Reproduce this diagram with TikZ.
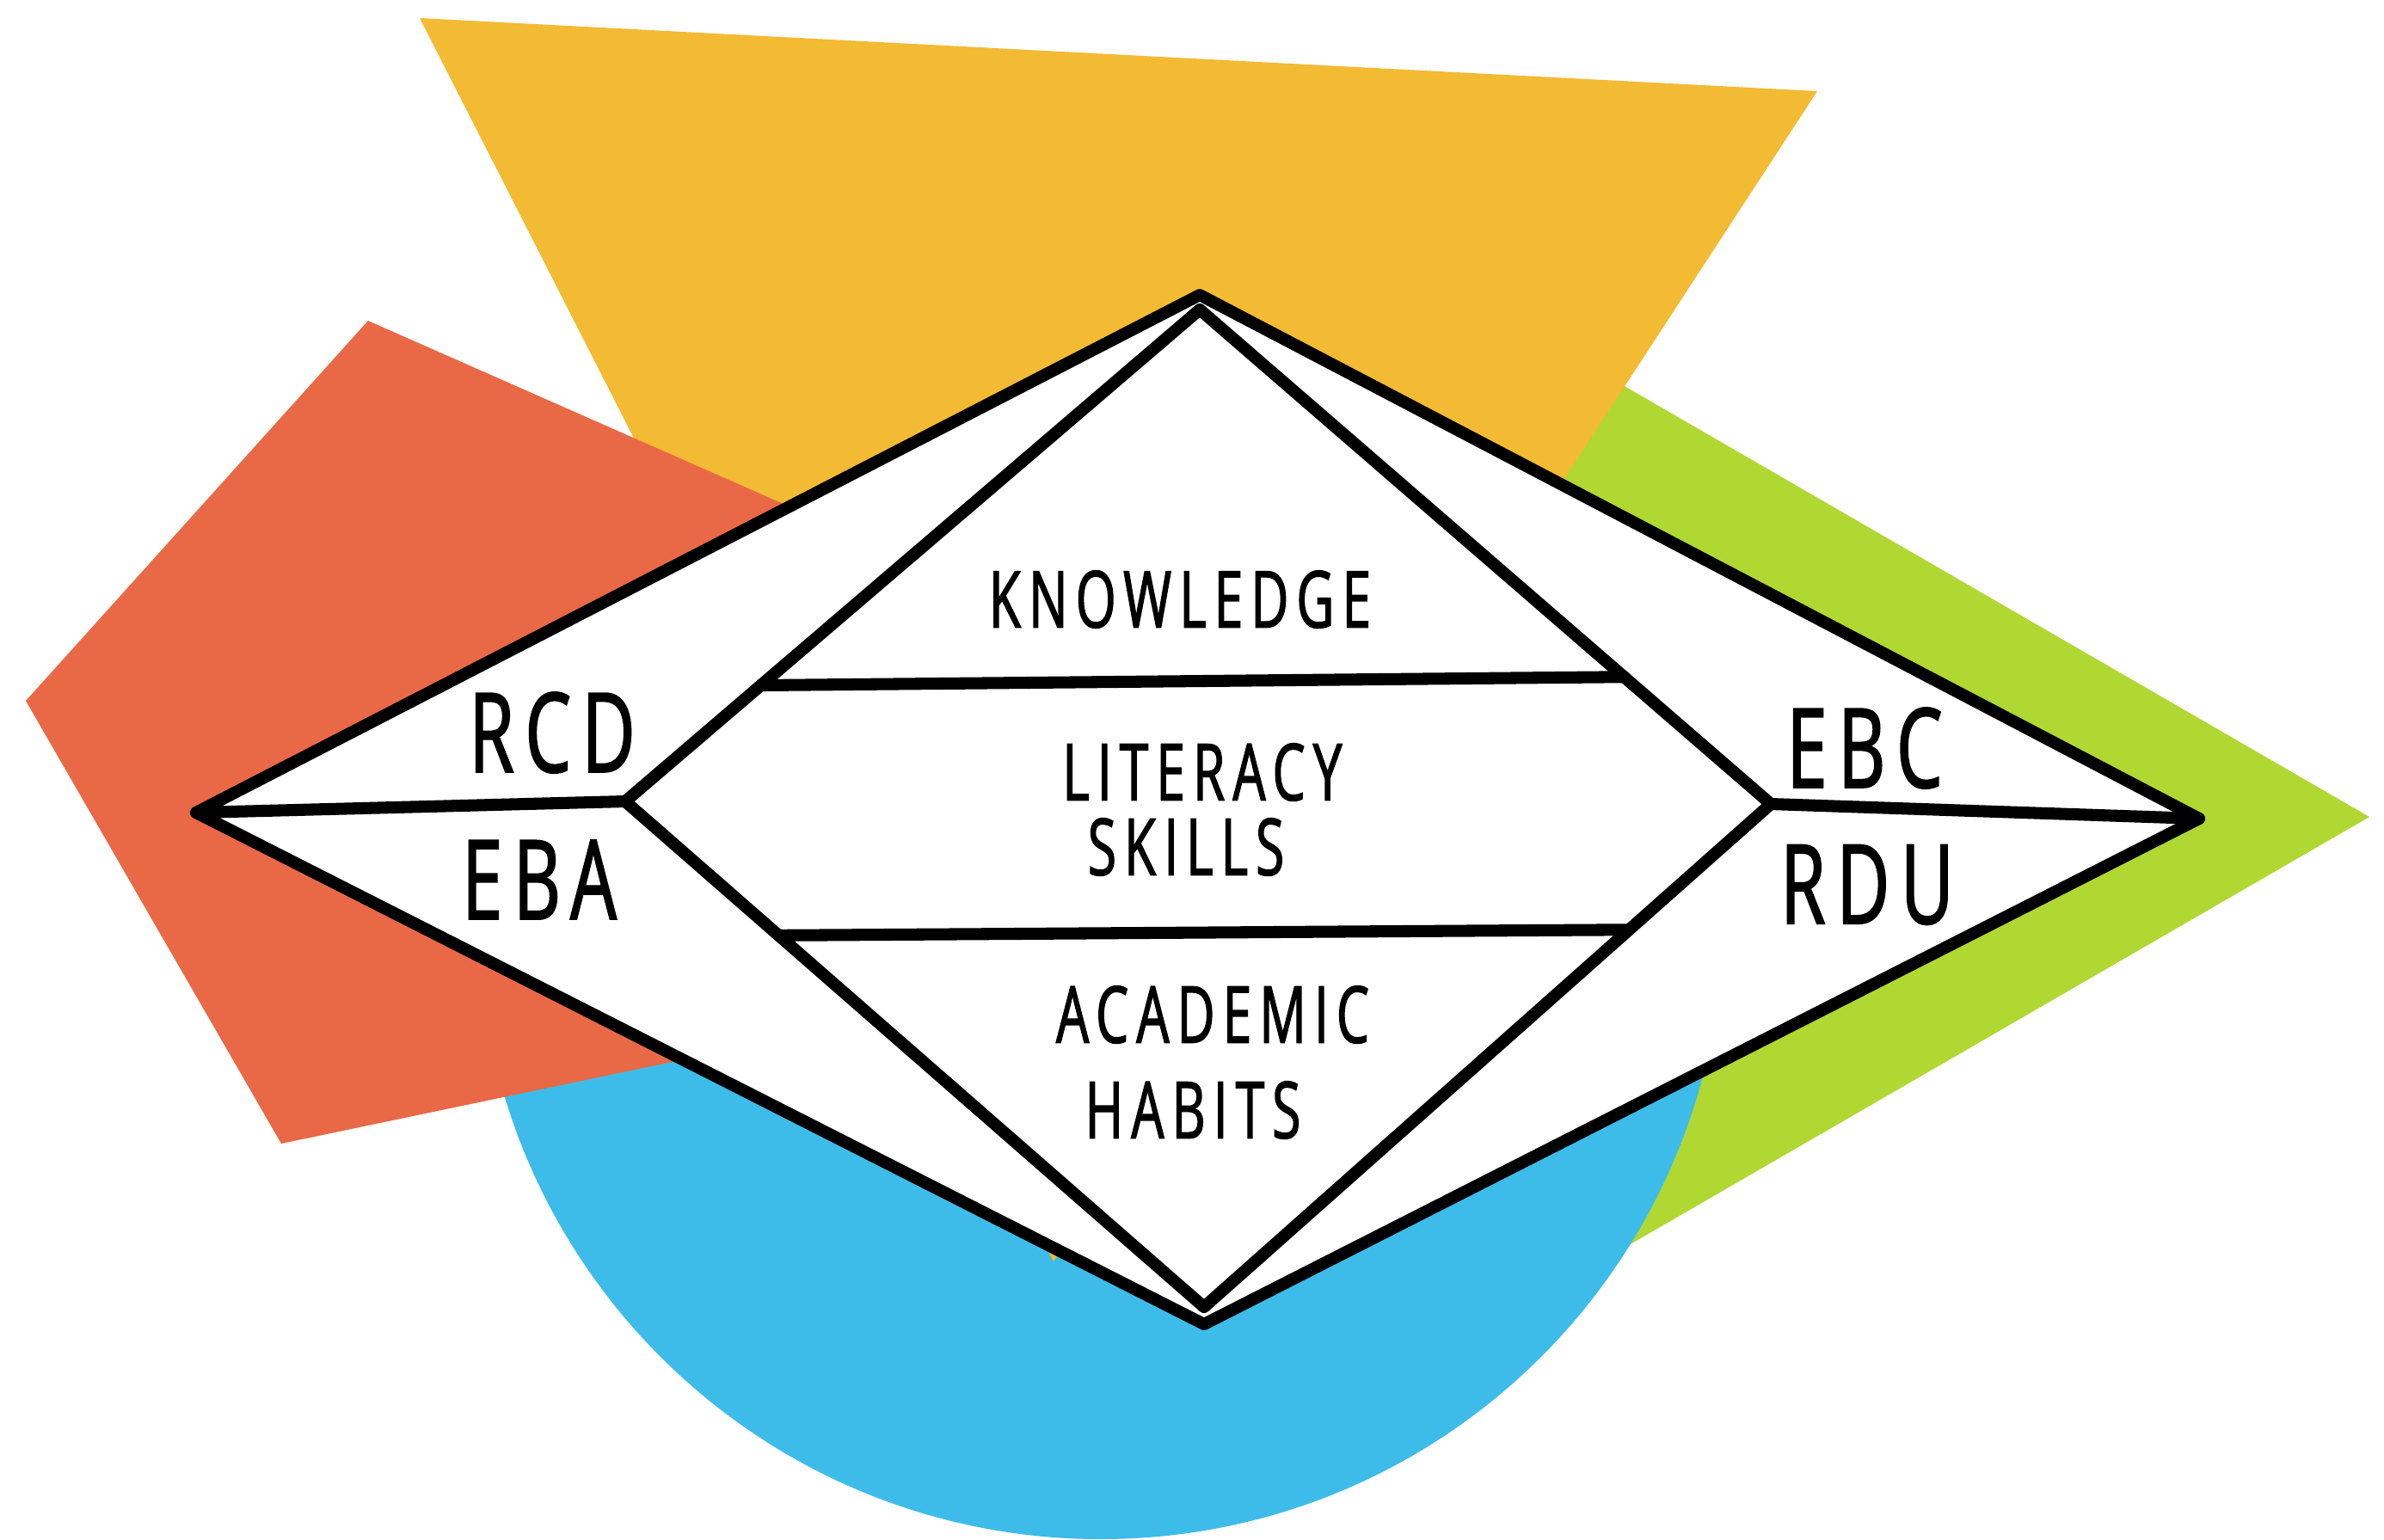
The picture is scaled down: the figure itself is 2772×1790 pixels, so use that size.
\documentclass[tikz,border=0pt]{standalone}
\usepackage{fontspec}
\usepackage{tikz}
\usetikzlibrary{positioning, calc}
\newfontfamily\handfont[FakeStretch=0.66,FakeBold=1.5,LetterSpace=10]{Open Sans}
\definecolor{sunyellow}{RGB}{243,186,51}
\definecolor{brickorange}{RGB}{233,105,70}
\definecolor{limegreen}{RGB}{177,215,51}
\definecolor{skyblue}{RGB}{62,188,233}
\tikzset{
  inkline/.style={line width=4pt, line join=round, line cap=round},
  midtext/.style={inner sep=0pt, font=\handfont\fontsize{26}{31}\selectfont},
  sidetext/.style={inner sep=0pt, font=\handfont\fontsize{36.5}{44}\selectfont}
}

\begin{document}
\begin{tikzpicture}[x=0.1mm, y=-0.1mm]
\useasboundingbox (0,0) rectangle (2772,1790);
\fill [limegreen] (2755,950) -- (1600,282) -- (1600,1618) -- cycle;
\fill [skyblue] (1280,1066) circle [radius=7.24cm];
\fill [sunyellow] (488,21) -- (2113,106) -- (1225,1467) -- cycle;
\fill [brickorange] (428,373) -- (30,815) -- (327,1330) -- (1867,1008) -- cycle;
\coordinate (oL) at (228,945);
\coordinate (oT) at (1395,343);
\coordinate (oR) at (2557,952);
\coordinate (oB) at (1400,1540);
\coordinate (iL) at (727,932);
\coordinate (iT) at (1395,360);
\coordinate (iR) at (2059,935);
\coordinate (iB) at (1400,1520);
\coordinate (k1) at ($(iL)!0.236!(iT)$);
\coordinate (k2) at ($(iT)!0.743!(iR)$);
\coordinate (h1) at ($(iL)!0.265!(iB)$);
\coordinate (h2) at ($(iR)!0.25!(iB)$);
\filldraw [inkline, fill=white] (oL) -- (oT) -- (oR) -- (oB) -- cycle;
\draw [inkline] (iL) -- (iT) -- (iR) -- (iB) -- cycle;
\draw [inkline] (oL) -- (iL);
\draw [inkline] (iR) -- (oR);
\draw [inkline] (k1) -- (k2);
\draw [inkline] (h1) -- (h2);
\node (knowledge) at (1372,697) [midtext] {KNOWLEDGE};
\node (literacy) at (1398,898) [midtext] {LITERACY};
\node (skills) at (1379,985) [midtext] {SKILLS};
\node (academic) at (1410,1180) [midtext] {ACADEMIC};
\node (habits) at (1387,1291) [midtext] {HABITS};
\node (rcd) at (642,852) [sidetext] {RCD};
\node (eba) at (627,1023) [sidetext] {EBA};
\node (ebc) at (2168,870) [sidetext] {EBC};
\node (rdu) at (2171,1029) [sidetext] {RDU};
\end{tikzpicture}
\end{document}
